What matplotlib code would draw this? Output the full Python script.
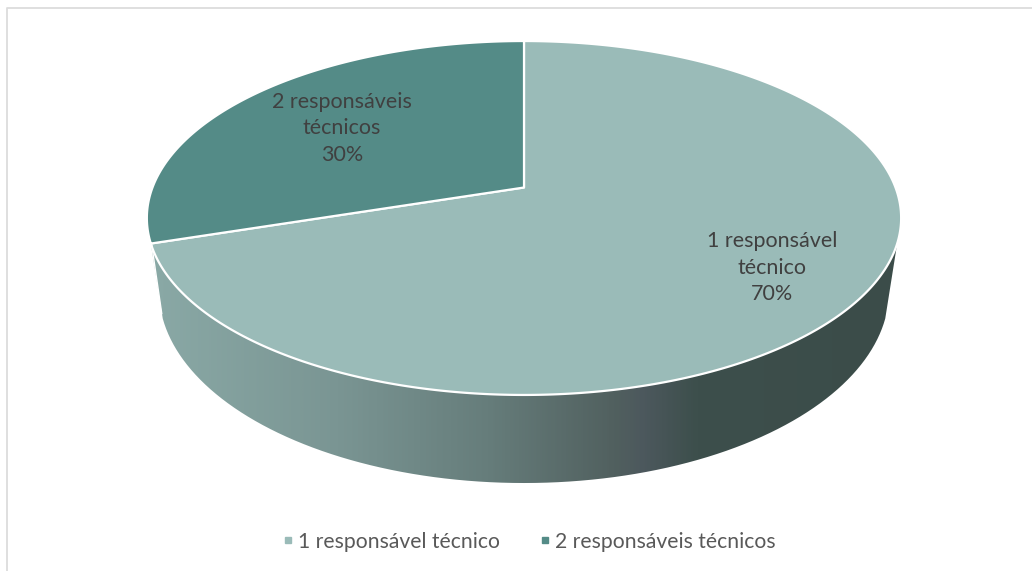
import numpy as np
import matplotlib
matplotlib.use("Agg")
import matplotlib.pyplot as plt
from matplotlib.patches import Polygon, PathPatch
from matplotlib.path import Path
from matplotlib.lines import Line2D
from matplotlib.colors import LinearSegmentedColormap

categories = ["1 responsável técnico", "2 responsáveis técnicos"]
slice_labels = ["1 responsável\ntécnico\n70%", "2 responsáveis\ntécnicos\n30%"]
values = [70, 30]
colors = ["#9ABBB8", "#548B87"]

plt.rcParams["font.family"] = ["Lato", "DejaVu Sans"]
TXT = "#404040"
W, H = 1032, 571
fig = plt.figure(figsize=(W / 100, H / 100), dpi=100)
ax = fig.add_axes([0, 0, 1, 1])
ax.set_xlim(0, W)
ax.set_ylim(H, 0)
ax.axis("off")

# perspective projection of the pie disc
CX, CY, K, A, C = 524.0, 187.5, 371.5, -139.4, 0.1723
def project(theta):
    x, y = np.sin(theta), np.cos(theta)
    d = 1 + C * y
    return CX + K * x / d, (A * y + CY) / d

def floor(X, Y):
    return CX + (X - CX) * 0.968, 318 + (Y - 243) * 1.086

# side wall with a horizontal gradient
t = np.linspace(0, 2 * np.pi, 721)
X, Y = project(t)
m = Y >= 243
order = np.argsort(t[m])
ex, ey = X[m][order], Y[m][order]
bx, by = floor(ex, ey)
wall = Path(np.r_[np.c_[ex, ey], np.c_[bx, by][::-1], [[ex[0], ey[0]]]])
cmap = LinearSegmentedColormap.from_list("wall", [
    (0.0, "#8AA9A6"), (0.25, "#7A9593"), (0.45, "#667D7B"),
    (0.62, "#51605F"), (0.66, "#4C585D"), (0.73, "#3D4F4C"), (1.0, "#3B4C49")])
img = ax.imshow(np.linspace(0, 1, 400)[None, :], cmap=cmap, aspect="auto",
                extent=(150, 900, 490, 240), zorder=1)
img.set_clip_path(PathPatch(wall, transform=ax.transData))
ax.set_xlim(0, W)
ax.set_ylim(H, 0)

# top faces, from the values
total = sum(values)
start = 0.0
for v, col in zip(values, colors):
    end = start + v / total * 2 * np.pi
    th = np.linspace(start, end, 400)
    px, py = project(th)
    pts = np.r_[[[CX, CY]], np.c_[px, py]]
    ax.add_patch(Polygon(pts, closed=True, facecolor=col, edgecolor="white",
                         linewidth=1.6, joinstyle="round", zorder=2))
    start = end

# white seam in the wall at the slice boundary
jx, jy = project(np.array([values[0] / total * 2 * np.pi]))
fx, fy = floor(jx, jy)
ax.add_line(Line2D([jx[0] + 1, fx[0] - 1], [jy[0] + 2, fy[0] - 5], color="white", lw=1.0, zorder=3))

# labels
label_pos = [(772, 267.5), (342, 128.5)]
for lab, (lx, ly) in zip(slice_labels, label_pos):
    ax.text(lx, ly, lab, ha="center", va="center", fontsize=15.5, color=TXT,
            linespacing=1.41, zorder=4)

# legend
handles = [Line2D([], [], ls="", marker="s", ms=4.8, color=c) for c in colors]
ax.legend(handles, categories, loc="center", bbox_to_anchor=(526.5 / W, 1 - 541.5 / H),
          ncol=2, frameon=False, fontsize=15.2, labelcolor="#595959",
          handletextpad=0.0, columnspacing=1.6, handlelength=1.0)

# chart border
bc = "#DCDCDC"
ax.add_line(Line2D([7, 7, W], [H, 7.5, 7.5], color=bc, lw=1.3, zorder=0))

fig.savefig("out.png", dpi=100, facecolor="white")
